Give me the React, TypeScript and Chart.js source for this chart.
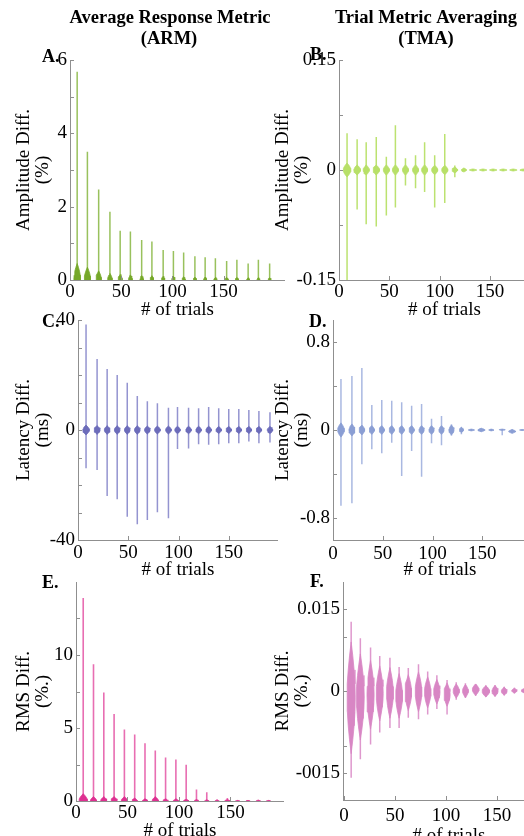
import React, { useEffect, useRef } from 'react';
import { Chart, registerables } from 'chart.js';

Chart.register(...registerables);

const SERIF = '"Liberation Serif", "Times New Roman", Times, serif';
const AXIS = '#8f8f8f';

// ---------- shared x ticks ----------
const xTickValues = [0, 50, 100, 150];
const xTickLabels = ['0', '50', '100', '150'];

// ---------- Panel A : ARM amplitude ----------
const trialsA = [7, 17, 28, 39, 49, 59, 70, 80, 91, 101, 111, 122, 132, 142, 153, 163, 174, 184, 195];
const maxA = [5.68, 3.5, 2.47, 1.86, 1.34, 1.32, 1.09, 1.05, 0.82, 0.79, 0.75, 0.65, 0.62, 0.59, 0.52, 0.55, 0.45, 0.55, 0.45];
const minA = [0, 0, 0, 0, 0, 0, 0, 0, 0, 0, 0, 0, 0, 0, 0, 0, 0, 0, 0];
const bodyTopA = [0.45, 0.35, 0.25, 0.18, 0.15, 0.14, 0.12, 0.12, 0.1, 0.1, 0.09, 0.08, 0.08, 0.07, 0.07, 0.07, 0.06, 0.06, 0.06];
const bodyBotA = [-0.4, -0.3, -0.22, -0.15, -0.12, -0.11, -0.1, -0.1, -0.08, -0.08, -0.07, -0.06, -0.06, -0.05, -0.05, -0.05, -0.04, -0.04, -0.04];
const bodyWA = [3.2, 3, 2.6, 2.2, 2, 1.8, 1.7, 1.7, 1.6, 1.6, 1.5, 1.5, 1.5, 1.5, 1.5, 1.5, 1.4, 1.4, 1.4];
const yTicksA = [0, 1, 2, 3, 4, 5, 6];
const yLabelsA = ['0', '', '2', '', '4', '', '6'];

// ---------- Panel B : TMA amplitude ----------
const trialsB = [8, 18, 27, 37, 47, 56, 66, 76, 85, 95, 105, 115, 124, 133, 143, 153, 163, 173, 183];
const maxB = [0.05, 0.042, 0.038, 0.045, 0.018, 0.061, 0.016, 0.02, 0.038, 0.02, 0.049, 0.006, 0.002, 0.001, 0.001, 0.001, 0.001, 0.001, 0.001];
const minB = [-0.16, -0.054, -0.074, -0.077, -0.062, -0.051, -0.021, -0.025, -0.03, -0.051, -0.045, -0.01, -0.0015, -0.001, -0.001, -0.001, -0.001, -0.001, -0.001];
const bodyTopB = [0.0095, 0.007, 0.007, 0.007, 0.007, 0.007, 0.007, 0.007, 0.007, 0.0065, 0.0065, 0.004, 0.0027, 0.0014, 0.0014, 0.0014, 0.0014, 0.0014, 0.0014];
const bodyBotB = [-0.0095, -0.007, -0.007, -0.007, -0.007, -0.007, -0.007, -0.007, -0.007, -0.0065, -0.0065, -0.004, -0.0027, -0.0014, -0.0014, -0.0014, -0.0014, -0.0014, -0.0014];
const bodyWB = [3.7, 3.3, 3, 3.2, 3, 3, 3, 3, 3, 3, 3, 2.8, 2.5, 3.5, 3.5, 3.5, 3.5, 3.5, 3.5];
const yTicksB = [-0.15, -0.075, 0, 0.075, 0.15];
const yLabelsB = ['-0.15', '', '0', '', '0.15'];

// ---------- Panel C : ARM latency ----------
const trialsC = [8, 19, 29, 39, 49, 59, 69, 79, 90, 99, 110, 120, 130, 140, 150, 160, 170, 180, 191];
const maxC = [38.4, 25.8, 22.2, 20, 17.2, 12.4, 10.5, 9.7, 8.1, 8.4, 8.1, 7.9, 8.4, 7.9, 7.6, 7.6, 7.3, 6.9, 6.5];
const minC = [-13.9, -14.5, -24, -25.2, -31.5, -34.3, -32.7, -29.9, -32.1, -6.9, -6.7, -5.2, -5.4, -5.2, -4.8, -4.8, -4.2, -4.8, -4.5];
const bodyTopC = [1.8, 1.6, 1.6, 1.6, 1.6, 1.6, 1.5, 1.5, 1.5, 1.4, 1.4, 1.4, 1.4, 1.3, 1.3, 1.3, 1.3, 1.3, 1.3];
const bodyBotC = [-1.8, -1.6, -1.6, -1.6, -1.6, -1.6, -1.5, -1.5, -1.5, -1.4, -1.4, -1.4, -1.4, -1.3, -1.3, -1.3, -1.3, -1.3, -1.3];
const bodyWC = [3.2, 3, 2.8, 2.8, 2.8, 2.8, 2.8, 2.8, 2.8, 2.7, 2.7, 2.7, 2.7, 2.7, 2.7, 2.7, 2.7, 2.7, 2.7];
const yTicksC = [-40, -30, -20, -10, 0, 10, 20, 30, 40];
const yLabelsC = ['-40', '', '', '', '0', '', '', '', '40'];

// ---------- Panel D : TMA latency ----------
const trialsD = [8, 19, 29, 39, 49, 59, 69, 79, 89, 99, 109, 119, 129, 139, 149, 159, 170, 180, 190];
const maxD = [0.464, 0.49, 0.564, 0.227, 0.273, 0.267, 0.252, 0.221, 0.236, 0.103, 0.127, 0.052, 0.027, 0.01, 0.015, 0.01, 0.006, 0.006, 0.005];
const minD = [-0.688, -0.667, -0.312, -0.176, -0.212, -0.115, -0.418, -0.191, -0.424, -0.121, -0.139, -0.052, -0.039, -0.01, -0.015, -0.01, -0.048, -0.03, -0.005];
const bodyTopD = [0.065, 0.055, 0.045, 0.04, 0.04, 0.04, 0.04, 0.04, 0.04, 0.04, 0.04, 0.045, 0.025, 0.008, 0.016, 0.008, 0.008, 0.004, 0.005];
const bodyBotD = [-0.065, -0.055, -0.045, -0.04, -0.04, -0.04, -0.04, -0.04, -0.04, -0.04, -0.04, -0.045, -0.025, -0.008, -0.016, -0.008, -0.004, -0.03, -0.005];
const bodyWD = [3.3, 3, 2.8, 2.6, 2.6, 2.6, 2.6, 2.6, 2.6, 2.6, 2.6, 2.6, 2, 3, 3.5, 2.5, 3, 3.5, 2.5];
const yTicksD = [-0.8, -0.4, 0, 0.4, 0.8];
const yLabelsD = ['-0.8', '', '0', '', '0.8'];

// ---------- Panel E : ARM RMS ----------
const trialsE = [7, 17, 27, 37, 47, 57, 67, 77, 87, 97, 107, 117, 127, 137, 147, 157, 167, 177, 187];
const maxE = [13.9, 9.37, 7.43, 5.96, 4.89, 4.55, 3.95, 3.46, 2.98, 2.84, 2.48, 0.78, 0.6, 0.12, 0.2, 0.05, 0.06, 0.08, 0.05];
const minE = [0, 0, 0, 0, 0, 0, 0, 0, 0, 0, 0, 0, 0, 0, 0, 0, 0, 0, 0];
const bodyTopE = [0.5, 0.3, 0.3, 0.3, 0.3, 0.2, 0.15, 0.3, 0.15, 0.15, 0.12, 0.1, 0.08, 0.05, 0.1, 0.04, 0.04, 0.05, 0.04];
const bodyBotE = [-0.45, -0.3, -0.3, -0.3, -0.3, -0.2, -0.15, -0.3, -0.15, -0.15, -0.12, -0.1, -0.08, -0.05, -0.1, -0.04, -0.04, -0.05, -0.04];
const bodyWE = [4, 3, 3, 3, 3, 2.5, 2.5, 3, 2.5, 2.5, 2.5, 2, 2, 2, 2.5, 2, 2, 2, 2];
const yTicksE = [0, 2.5, 5, 7.5, 10, 12.5];
const yLabelsE = ['0', '', '5', '', '10', ''];

// ---------- Panel F : TMA RMS ----------
const trialsF = [7, 16, 26, 35, 45, 54, 63, 73, 82, 91, 101, 110, 119, 129, 139, 148, 157, 167, 176];
const maxF = [0.0127, 0.0097, 0.008, 0.0064, 0.0061, 0.0044, 0.0042, 0.0049, 0.0036, 0.0029, 0.002, 0.0016, 0.0014, 0.0013, 0.001, 0.0011, 0.0008, 0.0006, 0.0004];
const minF = [-0.0159, -0.0125, -0.0098, -0.0076, -0.0068, -0.0068, -0.0049, -0.0052, -0.0043, -0.0033, -0.0043, -0.0016, -0.0013, -0.0009, -0.0011, -0.001, -0.0008, -0.0004, -0.0003];
const bodyTopF = [0.009, 0.0068, 0.0056, 0.0046, 0.0043, 0.0032, 0.003, 0.0035, 0.0026, 0.0021, 0.0015, 0.0013, 0.0012, 0.0013, 0.001, 0.001, 0.0007, 0.0005, 0.0004];
const bodyBotF = [-0.0115, -0.009, -0.007, -0.0055, -0.005, -0.005, -0.0036, -0.0038, -0.0031, -0.0024, -0.0028, -0.0013, -0.0012, -0.0008, -0.0011, -0.001, -0.0008, -0.0004, -0.0003];
const bodyWF = [4, 3.8, 3.5, 3.4, 3.3, 3.3, 3.2, 3.2, 3.1, 3.1, 3, 3, 2.8, 3.2, 3.6, 3, 2.8, 2.6, 2.2];
const yTicksF = [-0.015, -0.01, 0, 0.01, 0.015];
const yLabelsF = ['-0015', '', '0', '', '0.015'];

// violin outline profile (relative height, relative half-width)
const PROFILE = [
  [1, 0], [0.75, 0.4], [0.5, 0.72], [0.25, 0.93], [0, 1],
  [-0.25, 0.93], [-0.5, 0.72], [-0.75, 0.4], [-1, 0],
];

function bodyOutline(p: number, top: number, bot: number, w: number) {
  const mid = (top + bot) / 2;
  const half = (top - bot) / 2;
  const right = PROFILE.map(([fy, fw]) => ({ x: p + fw * w, y: mid + fy * half }));
  const left = PROFILE.slice(1, -1).reverse().map(([fy, fw]) => ({ x: p - fw * w, y: mid + fy * half }));
  return [...right, ...left, right[0]];
}

type TextItem = { text: string; x: number; y: number; size: number; bold?: boolean; align?: CanvasTextAlign };

type Spec = {
  id: string; left: number; top: number; width: number; height: number;
  yAxisWidth: number; xAxisHeight: number; padTop: number; xTickPad: number;
  xMin: number; xMax: number; yMin: number; yMax: number;
  yTicks: number[]; yLabels: string[]; yTitle: string[]; yTitlePad: number;
  trials: number[]; maxV: number[]; minV: number[]; bodyTop: number[]; bodyBot: number[]; bodyW: number[];
  bodyColor: string; lineColor: string; lineWidth: number; texts: TextItem[];
};

const HEAD = 18.5;
const LET = 18;

const specs: Spec[] = [
  {
    id: 'A', left: 0, top: 0, width: 285, height: 320, yAxisWidth: 70, xAxisHeight: 40, padTop: 60, xTickPad: 1,
    xMin: 0, xMax: 210, yMin: 0, yMax: 6, yTicks: yTicksA, yLabels: yLabelsA,
    yTitle: ['Amplitude Diff.', '(%)'], yTitlePad: 14.5,
    trials: trialsA, maxV: maxA, minV: minA, bodyTop: bodyTopA, bodyBot: bodyBotA, bodyW: bodyWA,
    bodyColor: 'rgb(118,168,42)', lineColor: 'rgba(128,178,52,0.8)', lineWidth: 1.5,
    texts: [
      { text: 'Average Response Metric', x: 170, y: 22.5, size: HEAD, bold: true, align: 'center' },
      { text: '(ARM)', x: 169, y: 43.5, size: HEAD, bold: true, align: 'center' },
      { text: 'A.', x: 42, y: 62, size: LET, bold: true },
    ],
  },
  {
    id: 'B', left: 260, top: 0, width: 290, height: 320, yAxisWidth: 79, xAxisHeight: 40, padTop: 60, xTickPad: 1,
    xMin: 0, xMax: 209.5, yMin: -0.15, yMax: 0.15, yTicks: yTicksB, yLabels: yLabelsB,
    yTitle: ['Amplitude Diff.', '(%)'], yTitlePad: 14,
    trials: trialsB, maxV: maxB, minV: minB, bodyTop: bodyTopB, bodyBot: bodyBotB, bodyW: bodyWB,
    bodyColor: 'rgb(184,224,104)', lineColor: 'rgba(184,224,104,0.95)', lineWidth: 1.5,
    texts: [
      { text: 'Trial Metric Averaging', x: 166, y: 22.5, size: HEAD, bold: true, align: 'center' },
      { text: '(TMA)', x: 166, y: 43.5, size: HEAD, bold: true, align: 'center' },
      { text: 'B.', x: 50, y: 60, size: LET, bold: true },
    ],
  },
  {
    id: 'C', left: 0, top: 300, width: 278, height: 280, yAxisWidth: 78, xAxisHeight: 40, padTop: 20, xTickPad: 1.5,
    xMin: 0, xMax: 199, yMin: -40, yMax: 40, yTicks: yTicksC, yLabels: yLabelsC,
    yTitle: ['Latency Diff.', '(ms)'], yTitlePad: 14.5,
    trials: trialsC, maxV: maxC, minV: minC, bodyTop: bodyTopC, bodyBot: bodyBotC, bodyW: bodyWC,
    bodyColor: 'rgb(108,108,186)', lineColor: 'rgba(112,112,192,0.75)', lineWidth: 1.5,
    texts: [{ text: 'C.', x: 42, y: 27, size: LET, bold: true }],
  },
  {
    id: 'D', left: 260, top: 300, width: 287, height: 280, yAxisWidth: 73, xAxisHeight: 40, padTop: 20, xTickPad: 2.5,
    xMin: 0, xMax: 215, yMin: -1, yMax: 1, yTicks: yTicksD, yLabels: yLabelsD,
    yTitle: ['Latency Diff.', '(ms)'], yTitlePad: 14,
    trials: trialsD, maxV: maxD, minV: minD, bodyTop: bodyTopD, bodyBot: bodyBotD, bodyW: bodyWD,
    bodyColor: 'rgb(138,158,212)', lineColor: 'rgba(140,160,215,0.75)', lineWidth: 1.5,
    texts: [{ text: 'D.', x: 49, y: 27, size: LET, bold: true }],
  },
  {
    id: 'E', left: 0, top: 560, width: 284, height: 281, yAxisWidth: 76, xAxisHeight: 40, padTop: 22, xTickPad: 1,
    xMin: 0, xMax: 202, yMin: 0, yMax: 15, yTicks: yTicksE, yLabels: yLabelsE,
    yTitle: ['RMS Diff.', '(%.)'], yTitlePad: 14.5,
    trials: trialsE, maxV: maxE, minV: minE, bodyTop: bodyTopE, bodyBot: bodyBotE, bodyW: bodyWE,
    bodyColor: 'rgb(222,48,145)', lineColor: 'rgba(224,62,152,0.75)', lineWidth: 1.6,
    texts: [{ text: 'E.', x: 42, y: 28, size: LET, bold: true }],
  },
  {
    id: 'F', left: 260, top: 560, width: 295, height: 286, yAxisWidth: 83, xAxisHeight: 46, padTop: 22, xTickPad: 4.5,
    xMin: -1, xMax: 206.8, yMin: -0.02, yMax: 0.02, yTicks: yTicksF, yLabels: yLabelsF,
    yTitle: ['RMS Diff.', '(%.)'], yTitlePad: 14,
    trials: trialsF, maxV: maxF, minV: minF, bodyTop: bodyTopF, bodyBot: bodyBotF, bodyW: bodyWF,
    bodyColor: 'rgb(216,134,196)', lineColor: 'rgba(216,134,196,0.85)', lineWidth: 1.5,
    texts: [{ text: 'F.', x: 50, y: 27, size: LET, bold: true }],
  },
];

function Panel({ s }: { s: Spec }) {
  const ref = useRef<HTMLCanvasElement | null>(null);
  useEffect(() => {
    if (!ref.current) return;
    const bodies = s.trials.map((p, i) => ({
      data: bodyOutline(p, s.bodyTop[i], s.bodyBot[i], s.bodyW[i]),
      borderColor: s.bodyColor,
      backgroundColor: s.bodyColor,
      borderWidth: 0.8,
      fill: 'shape',
      pointRadius: 0,
      tension: 0,
    }));
    const whiskerPts: any[] = [];
    s.trials.forEach((p, i) => {
      whiskerPts.push({ x: p, y: s.minV[i] }, { x: p, y: s.maxV[i] }, { x: p, y: null });
    });
    const whiskers = {
      data: whiskerPts,
      borderColor: s.lineColor,
      backgroundColor: s.lineColor,
      borderWidth: s.lineWidth,
      fill: false,
      pointRadius: 0,
      spanGaps: false,
      tension: 0,
    };

    const decor = {
      id: 'decor' + s.id,
      afterDraw(chart: any) {
        const ctx = chart.ctx;
        const { left, bottom } = chart.chartArea;
        const xs = chart.scales.x;
        const ys = chart.scales.y;
        ctx.save();
        ctx.strokeStyle = AXIS;
        ctx.lineWidth = 1;
        ctx.beginPath();
        for (const t of xs.ticks) {
          const px = Math.round(xs.getPixelForValue(t.value)) + 0.5;
          ctx.moveTo(px, bottom);
          ctx.lineTo(px, bottom - 4);
        }
        for (const t of ys.ticks) {
          const py = Math.round(ys.getPixelForValue(t.value)) + 0.5;
          ctx.moveTo(left, py);
          ctx.lineTo(left + 4, py);
        }
        ctx.stroke();
        ctx.fillStyle = '#000';
        ctx.textBaseline = 'alphabetic';
        for (const t of s.texts) {
          ctx.font = `${t.bold ? 'bold ' : ''}${t.size}px ${SERIF}`;
          ctx.textAlign = t.align || 'left';
          ctx.fillText(t.text, t.x, t.y);
        }
        ctx.restore();
      },
    };

    const tickFont = { family: SERIF, size: 19, lineHeight: 1.2 };
    const titleFont = { family: SERIF, size: 19, lineHeight: 1.0 };

    const chart = new Chart(ref.current, {
      type: 'line',
      data: { datasets: [...bodies, whiskers] as any },
      options: {
        animation: false,
        responsive: false,
        events: [],
        layout: { padding: { top: s.padTop, left: 0, right: 0, bottom: 0 } },
        plugins: { legend: { display: false }, tooltip: { enabled: false }, title: { display: false } },
        elements: { point: { radius: 0, hoverRadius: 0 }, line: { tension: 0 } },
        scales: {
          x: {
            type: 'linear',
            min: s.xMin,
            max: s.xMax,
            afterBuildTicks: (sc: any) => { sc.ticks = xTickValues.map((v) => ({ value: v })); },
            afterFit: (sc: any) => { sc.height = s.xAxisHeight; },
            grid: { display: false, drawTicks: false },
            border: { display: true, color: AXIS, width: 1 },
            ticks: {
              autoSkip: false, maxRotation: 0, padding: s.xTickPad, color: '#000', font: tickFont,
              callback: (_v: any, i: number) => xTickLabels[i],
            },
            title: { display: true, text: '# of trials', color: '#000', font: titleFont, padding: { top: 0, bottom: 0.5 } },
          },
          y: {
            type: 'linear',
            min: s.yMin,
            max: s.yMax,
            afterBuildTicks: (sc: any) => { sc.ticks = s.yTicks.map((v) => ({ value: v })); },
            afterFit: (sc: any) => { sc.width = s.yAxisWidth; },
            grid: { display: false, drawTicks: false },
            border: { display: true, color: AXIS, width: 1 },
            ticks: {
              autoSkip: false, padding: 3, color: '#000', font: tickFont,
              callback: (_v: any, i: number) => s.yLabels[i],
            },
            title: { display: true, text: s.yTitle, color: '#000', font: titleFont, padding: { top: s.yTitlePad, bottom: 0 } },
          },
        },
      } as any,
      plugins: [decor],
    } as any);
    return () => chart.destroy();
  }, [s]);
  return (
    <canvas
      ref={ref}
      width={s.width}
      height={s.height}
      style={{ position: 'absolute', left: s.left, top: s.top, width: s.width, height: s.height }}
    />
  );
}

export default function App() {
  return (
    <div style={{ position: 'absolute', left: 0, top: 0, width: 524, height: 836, overflow: 'hidden', background: '#fff' }}>
      {specs.map((s) => (
        <Panel key={s.id} s={s} />
      ))}
    </div>
  );
}
